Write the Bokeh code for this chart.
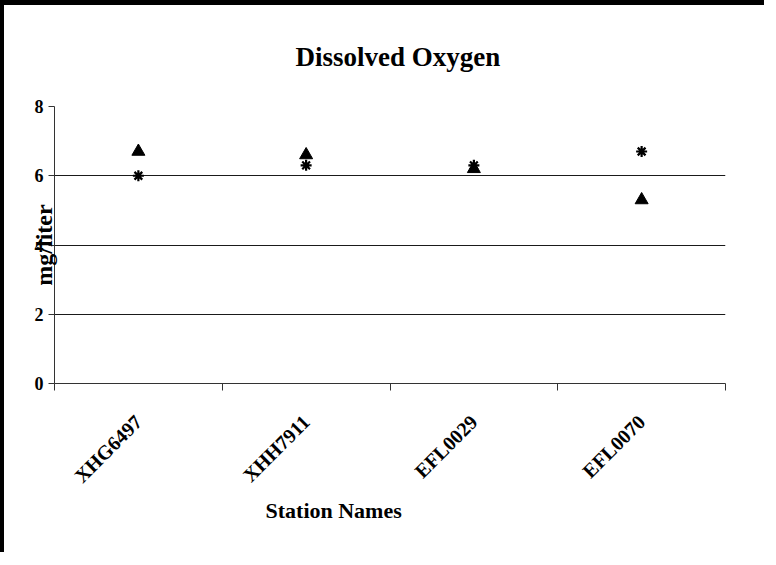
from math import pi
from bokeh.plotting import figure
from bokeh.models import Range1d, FixedTicker, Title
from bokeh.embed import file_html
from bokeh.resources import INLINE

# ---- data ----
stations = ["XHG6497", "XHH7911", "EFL0029", "EFL0070"]
series_triangle = [6.7, 6.6, 6.2, 5.3]
series_asterisk = [6.0, 6.3, 6.3, 6.7]
y_ticks = [0, 2, 4, 6, 8]
chart_title = "Dissolved Oxygen"
x_title = "Station Names"
y_title = "mg/liter"

FONT = "Liberation Serif"
BL, BT = 4, 5                 # thick document frame on the left / top (CSS border)
W, H = 768 - BL, 557 - BT     # canvas size
ML, MT = 54 - BL, 106 - BT
MR = W - (725 - BL)
MB = H - (383 - BT)

xs = [i + 0.5 for i in range(len(stations))]

p = figure(width=W, height=H, output_backend="svg", toolbar_location=None,
           x_range=Range1d(0, len(stations)), y_range=Range1d(y_ticks[0], y_ticks[-1]),
           min_border_left=ML, min_border_right=MR, min_border_top=MT, min_border_bottom=MB,
           styles={"border-left": f"{BL}px solid black", "border-top": f"{BT}px solid black"})
p.outline_line_color = None
p.background_fill_color = "white"
p.border_fill_color = "white"

# title
p.title.text = chart_title
p.title.text_font = FONT
p.title.text_font_style = "bold"
p.title.text_font_size = "27px"
p.title.text_color = "black"
p.title.align = "left"
p.title.offset = 241
p.title.standoff = 69

# grid
p.xgrid.visible = False
p.ygrid.ticker = FixedTicker(ticks=y_ticks)
p.ygrid.grid_line_color = "#1a1a1a"
p.ygrid.grid_line_width = 1

# y axis
p.yaxis.ticker = FixedTicker(ticks=y_ticks)
p.yaxis.axis_line_color = "#333333"
p.yaxis.major_tick_line_color = "#333333"
p.yaxis.major_tick_out = 6
p.yaxis.major_tick_in = 0
p.yaxis.minor_tick_line_color = None
p.yaxis.major_label_standoff = 5
p.yaxis.major_label_text_font = FONT
p.yaxis.major_label_text_font_style = "bold"
p.yaxis.major_label_text_font_size = "18px"
p.yaxis.major_label_text_color = "black"
p.yaxis.axis_label = y_title
p.yaxis.axis_label_text_font = FONT
p.yaxis.axis_label_text_font_style = "bold"
p.yaxis.axis_label_text_font_size = "24px"
p.yaxis.axis_label_text_color = "black"
p.yaxis.axis_label_standoff = -25

# x axis: ticks at category boundaries, labels at centres
p.xaxis.ticker = FixedTicker(ticks=xs, minor_ticks=list(range(len(stations) + 1)))
p.xaxis.major_label_overrides = {x: s for x, s in zip(xs, stations)}
p.xaxis.axis_line_color = "#333333"
p.xaxis.major_tick_line_color = None
p.xaxis.major_tick_out = 0
p.xaxis.major_tick_in = 0
p.xaxis.minor_tick_line_color = "#333333"
p.xaxis.minor_tick_out = 7
p.xaxis.minor_tick_in = 0
p.xaxis.major_label_orientation = pi / 4
p.xaxis.major_label_standoff = 28
p.xaxis.major_label_text_font = FONT
p.xaxis.major_label_text_font_style = "bold"
p.xaxis.major_label_text_font_size = "20px"
p.xaxis.major_label_text_color = "black"

# x axis title, placed as a below-title so that it can be offset like the original
p.add_layout(Title(text=x_title, text_font=FONT, text_font_style="bold",
                   text_font_size="22px", text_color="black",
                   align="left", offset=265 - 54, standoff=-3), "below")

# markers
p.scatter(xs, series_triangle, marker="triangle", size=13,
          fill_color="black", line_color="black")
p.scatter(xs, series_asterisk, marker="asterisk", size=11,
          line_color="black", line_width=2.2)

open("out.html", "w").write(file_html(p, INLINE))
